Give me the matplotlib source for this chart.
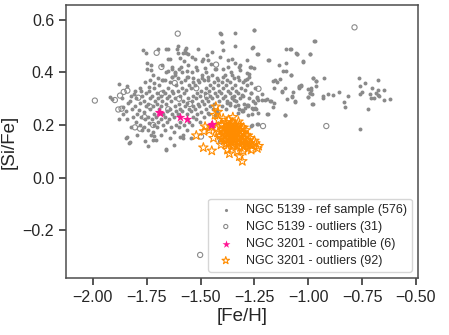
import numpy as np
import matplotlib
matplotlib.use("Agg")
import matplotlib.pyplot as plt
import seaborn as sns

sns.set_style("ticks")
plt.rcParams['font.family'] = ['Liberation Sans', 'DejaVu Sans']

# NGC 5139 reference sample ([Fe/H], [Si/Fe])
ref_pts = [
    # upper sparse part
    (-1.766, 0.486), (-1.753, 0.475), (-1.699, 0.491), (-1.662, 0.488), (-1.606, 0.502),
    (-1.750, 0.435), (-1.731, 0.430), (-1.728, 0.410), (-1.750, 0.412), (-1.653, 0.450),
    (-1.633, 0.420), (-1.621, 0.400), (-1.676, 0.371), (-1.718, 0.360), (-1.738, 0.344),
    (-1.777, 0.331), (-1.808, 0.318), (-1.653, 0.490), (-1.569, 0.492), (-1.510, 0.488),
    (-1.395, 0.486), (-1.642, 0.451), (-1.603, 0.473), (-1.569, 0.473), (-1.595, 0.454),
    (-1.526, 0.451), (-1.472, 0.467), (-1.464, 0.448), (-1.494, 0.444), (-1.371, 0.448),
    (-1.557, 0.429), (-1.653, 0.406), (-1.631, 0.412), (-1.591, 0.422), (-1.619, 0.397),
    (-1.587, 0.401), (-1.561, 0.406), (-1.518, 0.410), (-1.479, 0.416), (-1.433, 0.412),
    (-1.395, 0.412), (-1.371, 0.422), (-1.386, 0.390), (-1.355, 0.390), (-1.696, 0.378),
    (-1.665, 0.371), (-1.634, 0.384), (-1.603, 0.378), (-1.564, 0.384), (-1.534, 0.378),
    (-1.494, 0.380), (-1.464, 0.371), (-1.425, 0.378), (-1.409, 0.549), (-1.400, 0.517),
    (-1.540, 0.460), (-1.560, 0.470), (-1.572, 0.485), (-1.608, 0.490), (-1.409, 0.458),
    (-1.448, 0.479), (-1.487, 0.450), (-1.580, 0.473),
    # dense cloud
    (-1.862, 0.270), (-1.858, 0.241), (-1.866, 0.302), (-1.843, 0.221), (-1.838, 0.282),
    (-1.846, 0.252), (-1.842, 0.350), (-1.823, 0.192), (-1.818, 0.262), (-1.826, 0.291),
    (-1.815, 0.232), (-1.821, 0.312), (-1.802, 0.211), (-1.796, 0.243), (-1.805, 0.272),
    (-1.798, 0.302), (-1.803, 0.331), (-1.794, 0.163), (-1.783, 0.201), (-1.776, 0.232),
    (-1.785, 0.258), (-1.779, 0.283), (-1.774, 0.309), (-1.781, 0.341), (-1.772, 0.181),
    (-1.762, 0.192), (-1.757, 0.221), (-1.764, 0.249), (-1.755, 0.271), (-1.761, 0.291),
    (-1.753, 0.322), (-1.758, 0.362), (-1.745, 0.182), (-1.738, 0.208), (-1.743, 0.231),
    (-1.735, 0.262), (-1.746, 0.281), (-1.733, 0.302), (-1.741, 0.331), (-1.736, 0.372),
    (-1.742, 0.121), (-1.722, 0.172), (-1.716, 0.201), (-1.725, 0.221), (-1.714, 0.243),
    (-1.721, 0.272), (-1.712, 0.291), (-1.726, 0.312), (-1.717, 0.341), (-1.723, 0.392),
    (-1.702, 0.191), (-1.696, 0.212), (-1.705, 0.232), (-1.694, 0.262), (-1.703, 0.281),
    (-1.697, 0.302), (-1.701, 0.322), (-1.693, 0.352), (-1.706, 0.142), (-1.683, 0.162),
    (-1.676, 0.201), (-1.685, 0.222), (-1.674, 0.241), (-1.682, 0.272), (-1.677, 0.291),
    (-1.686, 0.312), (-1.673, 0.331), (-1.681, 0.372), (-1.678, 0.430), (-1.663, 0.182),
    (-1.656, 0.211), (-1.665, 0.232), (-1.654, 0.252), (-1.661, 0.281), (-1.657, 0.302),
    (-1.664, 0.322), (-1.652, 0.342), (-1.659, 0.402), (-1.643, 0.152), (-1.636, 0.192),
    (-1.645, 0.221), (-1.634, 0.243), (-1.642, 0.262), (-1.637, 0.291), (-1.646, 0.312),
    (-1.633, 0.331), (-1.641, 0.362), (-1.635, 0.382), (-1.622, 0.172), (-1.616, 0.201),
    (-1.625, 0.232), (-1.614, 0.252), (-1.621, 0.271), (-1.617, 0.302), (-1.626, 0.321),
    (-1.613, 0.352), (-1.619, 0.392), (-1.624, 0.122), (-1.602, 0.191), (-1.596, 0.212),
    (-1.605, 0.242), (-1.594, 0.262), (-1.601, 0.281), (-1.597, 0.312), (-1.606, 0.331),
    (-1.593, 0.362), (-1.599, 0.412), (-1.583, 0.162), (-1.576, 0.201), (-1.585, 0.252),
    (-1.574, 0.271), (-1.582, 0.291), (-1.577, 0.322), (-1.586, 0.342), (-1.573, 0.372),
    (-1.579, 0.442), (-1.562, 0.182), (-1.556, 0.212), (-1.565, 0.241), (-1.554, 0.262),
    (-1.561, 0.282), (-1.557, 0.302), (-1.566, 0.332), (-1.553, 0.352), (-1.559, 0.382),
    (-1.542, 0.201), (-1.536, 0.232), (-1.545, 0.252), (-1.534, 0.271), (-1.541, 0.291),
    (-1.537, 0.312), (-1.546, 0.342), (-1.533, 0.362), (-1.539, 0.402), (-1.544, 0.151),
    (-1.522, 0.222), (-1.516, 0.242), (-1.525, 0.262), (-1.514, 0.281), (-1.521, 0.302),
    (-1.517, 0.322), (-1.526, 0.352), (-1.513, 0.372), (-1.519, 0.422), (-1.502, 0.212),
    (-1.496, 0.251), (-1.505, 0.272), (-1.494, 0.292), (-1.501, 0.312), (-1.497, 0.331),
    (-1.506, 0.362), (-1.493, 0.392), (-1.482, 0.232), (-1.476, 0.262), (-1.485, 0.281),
    (-1.474, 0.302), (-1.481, 0.322), (-1.477, 0.342), (-1.486, 0.371), (-1.473, 0.402),
    (-1.462, 0.242), (-1.456, 0.271), (-1.465, 0.291), (-1.454, 0.312), (-1.461, 0.331),
    (-1.457, 0.352), (-1.466, 0.382), (-1.453, 0.432), (-1.442, 0.262), (-1.436, 0.281),
    (-1.445, 0.302), (-1.434, 0.322), (-1.441, 0.342), (-1.437, 0.362), (-1.446, 0.392),
    (-1.422, 0.252), (-1.416, 0.292), (-1.425, 0.312), (-1.414, 0.331), (-1.421, 0.352),
    (-1.417, 0.372), (-1.426, 0.412), (-1.402, 0.272), (-1.396, 0.302), (-1.405, 0.322),
    (-1.394, 0.342), (-1.401, 0.362), (-1.397, 0.381), (-1.382, 0.262), (-1.376, 0.292),
    (-1.385, 0.312), (-1.374, 0.331), (-1.381, 0.352), (-1.377, 0.372), (-1.362, 0.282),
    (-1.356, 0.302), (-1.365, 0.322), (-1.354, 0.342), (-1.361, 0.362), (-1.357, 0.402),
    (-1.342, 0.272), (-1.336, 0.292), (-1.345, 0.312), (-1.334, 0.331), (-1.341, 0.352),
    (-1.322, 0.262), (-1.316, 0.302), (-1.325, 0.322), (-1.314, 0.342), (-1.321, 0.372),
    (-1.302, 0.252), (-1.296, 0.281), (-1.305, 0.312), (-1.294, 0.332), (-1.301, 0.362),
    (-1.282, 0.272), (-1.276, 0.302), (-1.285, 0.352), (-1.274, 0.382), (-1.262, 0.242),
    (-1.256, 0.292), (-1.265, 0.322), (-1.242, 0.262), (-1.236, 0.302), (-1.245, 0.342),
    # lower sparse part of the cloud
    (-1.843, 0.155), (-1.828, 0.136), (-1.662, 0.106), (-1.730, 0.160), (-1.595, 0.155),
    (-1.847, 0.152), (-1.831, 0.133), (-1.757, 0.140), (-1.720, 0.143), (-1.715, 0.158),
    (-1.660, 0.107), (-1.583, 0.149), (-1.878, 0.222), (-1.878, 0.356), (-1.912, 0.298),
    (-1.920, 0.308), (-1.467, 0.244), (-1.433, 0.238), (-1.420, 0.206), (-1.378, 0.285),
    (-1.324, 0.276), (-1.293, 0.264), (-1.278, 0.276), (-1.247, 0.264), (-1.193, 0.242),
    (-1.231, 0.204), (-1.262, 0.200), (-1.162, 0.270),
    # sparse tail towards higher metallicity
    (-1.406, 0.547), (-1.251, 0.562), (-1.402, 0.517), (-1.257, 0.498), (-1.236, 0.469),
    (-1.180, 0.448), (-1.102, 0.488), (-1.084, 0.488), (-1.056, 0.473), (-1.138, 0.429),
    (-1.116, 0.406), (-1.146, 0.365), (-1.130, 0.374), (-1.106, 0.340), (-1.072, 0.327),
    (-1.045, 0.349), (-1.123, 0.329), (-1.200, 0.295), (-1.215, 0.317), (-1.177, 0.291),
    (-1.157, 0.283), (-1.107, 0.238), (-1.231, 0.244), (-1.257, 0.260), (-1.278, 0.238),
    (-1.309, 0.257), (-1.286, 0.276), (-1.363, 0.276), (-1.347, 0.295), (-1.355, 0.308),
    (-1.309, 0.314), (-1.267, 0.321), (-1.239, 0.308), (-1.267, 0.359), (-1.293, 0.371),
    (-1.324, 0.384), (-1.286, 0.397), (-1.316, 0.410), (-1.250, 0.416), (-1.340, 0.435),
    (-1.320, 0.422), (-1.352, 0.450), (-1.286, 0.448), (-1.270, 0.422), (-1.340, 0.549),
    (-1.253, 0.562), (-1.340, 0.500), (-1.262, 0.495), (-1.234, 0.469), (-1.186, 0.446),
    (-1.053, 0.470), (-1.022, 0.440), (-0.994, 0.469), (-0.971, 0.519), (-1.102, 0.437),
    (-1.104, 0.407), (-1.082, 0.389), (-1.318, 0.429), (-1.265, 0.420), (-1.276, 0.394),
    (-1.284, 0.374), (-1.344, 0.380), (-1.164, 0.368), (-1.153, 0.371), (-1.158, 0.342),
    (-1.120, 0.327), (-1.100, 0.300), (-1.076, 0.308), (-1.060, 0.289), (-1.045, 0.344),
    (-1.034, 0.350), (-0.999, 0.307), (-0.991, 0.321), (-0.980, 0.378), (-0.964, 0.368),
    (-0.986, 0.340), (-0.980, 0.281), (-1.107, 0.239), (-1.189, 0.242), (-1.236, 0.203),
    (-1.265, 0.196), (-1.234, 0.295), (-1.213, 0.295), (-1.193, 0.298), (-1.175, 0.293),
    (-1.247, 0.283), (-1.262, 0.266), (-1.309, 0.253), (-1.324, 0.244),
    (-0.969, 0.520), (-1.080, 0.489), (-1.051, 0.472), (-0.994, 0.470), (-1.022, 0.443),
    (-1.080, 0.389), (-0.980, 0.379), (-0.926, 0.379), (-0.963, 0.366), (-1.034, 0.351),
    (-0.966, 0.350), (-1.042, 0.341), (-0.999, 0.338), (-0.988, 0.332), (-0.994, 0.321),
    (-0.983, 0.318), (-0.999, 0.307), (-1.076, 0.310), (-0.932, 0.310), (-0.932, 0.304),
    (-0.910, 0.319), (-0.887, 0.313), (-0.859, 0.325), (-0.817, 0.310), (-0.836, 0.288),
    (-0.830, 0.267), (-1.062, 0.290), (-0.983, 0.281),
    (-0.766, 0.378), (-0.737, 0.359), (-0.676, 0.370), (-0.761, 0.348), (-0.704, 0.341),
    (-0.674, 0.333), (-0.650, 0.335), (-0.749, 0.325), (-0.761, 0.317), (-0.715, 0.319),
    (-0.684, 0.323), (-0.678, 0.316), (-0.669, 0.312), (-0.707, 0.304), (-0.696, 0.304),
    (-0.647, 0.295), (-0.622, 0.299), (-0.722, 0.262), (-0.758, 0.185),
]

# NGC 5139 outliers (31)
out_pts = [
    (-1.606, 0.548), (-1.704, 0.475), (-1.682, 0.421), (-1.428, 0.430), (-1.991, 0.293),
    (-1.898, 0.295), (-1.874, 0.312), (-1.857, 0.326), (-1.840, 0.331), (-1.882, 0.259),
    (-1.867, 0.262), (-1.805, 0.191), (-1.781, 0.186), (-1.405, 0.138), (-1.231, 0.338),
    (-1.210, 0.196), (-0.916, 0.196), (-0.785, 0.572), (-1.502, -0.295), (-1.789, 0.304),
    (-1.735, 0.270), (-1.498, 0.156), (-1.760, 0.230), (-1.720, 0.200), (-1.650, 0.260),
    (-1.600, 0.300), (-1.550, 0.280), (-1.520, 0.340), (-1.470, 0.310), (-1.680, 0.320),
    (-1.620, 0.360),
]

# NGC 3201 compatible (6)
comp_pts = [
    (-1.695, 0.251), (-1.690, 0.247), (-1.595, 0.232), (-1.561, 0.223), (-1.453, 0.199),
    (-1.445, 0.205),
]

# NGC 3201 outliers (92)
n3201_out_pts = [
    (-1.429, 0.270), (-1.433, 0.238), (-1.417, 0.219), (-1.402, 0.200), (-1.520, 0.160),
    (-1.484, 0.176), (-1.487, 0.114), (-1.448, 0.102), (-1.366, 0.091), (-1.306, 0.062),
    (-1.302, 0.101), (-1.236, 0.111), (-1.262, 0.122), (-1.479, 0.194), (-1.448, 0.194),
    (-1.417, 0.174), (-1.324, 0.213), (-1.300, 0.190), (-1.250, 0.140), (-1.270, 0.150),
    (-1.230, 0.120), (-1.350, 0.230), (-1.370, 0.220), (-1.420, 0.250), (-1.410, 0.160),
    (-1.460, 0.180), (-1.440, 0.150), (-1.330, 0.100), (-1.350, 0.120), (-1.280, 0.110),
    (-1.320, 0.080),
    (-1.400, 0.150), (-1.400, 0.180), (-1.400, 0.200), (-1.390, 0.140), (-1.390, 0.170),
    (-1.390, 0.190), (-1.380, 0.130), (-1.380, 0.160), (-1.380, 0.180), (-1.380, 0.210),
    (-1.370, 0.150), (-1.370, 0.170), (-1.370, 0.190), (-1.370, 0.130), (-1.360, 0.140),
    (-1.360, 0.160), (-1.360, 0.180), (-1.360, 0.200), (-1.350, 0.130), (-1.350, 0.150),
    (-1.350, 0.170), (-1.350, 0.190), (-1.350, 0.210), (-1.340, 0.140), (-1.340, 0.160),
    (-1.340, 0.180), (-1.340, 0.200), (-1.330, 0.120), (-1.330, 0.150), (-1.330, 0.170),
    (-1.330, 0.190), (-1.320, 0.130), (-1.320, 0.160), (-1.320, 0.180), (-1.320, 0.200),
    (-1.310, 0.140), (-1.310, 0.170), (-1.310, 0.190), (-1.300, 0.120), (-1.300, 0.150),
    (-1.300, 0.170), (-1.290, 0.130), (-1.290, 0.160), (-1.290, 0.180), (-1.280, 0.140),
    (-1.280, 0.160), (-1.270, 0.130),
    (-1.395, 0.225), (-1.355, 0.205), (-1.325, 0.145), (-1.345, 0.125), (-1.315, 0.115),
    (-1.385, 0.145), (-1.365, 0.185), (-1.305, 0.135), (-1.285, 0.125), (-1.265, 0.105),
    (-1.425, 0.185), (-1.405, 0.125), (-1.375, 0.105), (-1.245, 0.130),
]

fe_ref, si_ref = np.array(ref_pts).T
fe_out, si_out = np.array(out_pts).T
fe_comp, si_comp = np.array(comp_pts).T
fe_n3201, si_n3201 = np.array(n3201_out_pts).T

fig = plt.figure(figsize=(4.49, 3.35), dpi=100)
ax = fig.add_axes([0.147, 0.170, 0.784, 0.815])

ax.scatter(fe_ref, si_ref, s=8, color='#8a8a8a', linewidths=0,
           label='NGC 5139 - ref sample (576)')
ax.scatter(fe_out, si_out, s=14, facecolors='none', edgecolors='#8a8a8a', linewidths=0.8,
           label='NGC 5139 - outliers (31)')
ax.scatter(fe_comp, si_comp, s=55, marker='*', color='deeppink', linewidths=0,
           label='NGC 3201 - compatible (6)', zorder=4)
ax.scatter(fe_n3201, si_n3201, s=50, marker='*', facecolors='none', edgecolors='darkorange',
           linewidths=0.8, label='NGC 3201 - outliers (92)', zorder=3)

ax.set_xlim(-2.125, -0.49)
ax.set_ylim(-0.383, 0.657)
ax.set_xticks([-2.0, -1.75, -1.5, -1.25, -1.0, -0.75, -0.5])
ax.set_yticks([-0.2, 0.0, 0.2, 0.4, 0.6])
ax.tick_params(labelsize=11.5, length=5, width=1.1, colors='.15')
for sp in ax.spines.values():
    sp.set_linewidth(1.1)
    sp.set_color('.3')
ax.set_xlabel('[Fe/H]', fontsize=13.5, labelpad=2)
ax.set_ylabel('[Si/Fe]', fontsize=13.5)
ax.legend(loc='lower right', fontsize=9, frameon=True, markerscale=0.8,
          handletextpad=0.6, borderpad=0.4, labelspacing=0.4)

fig.savefig('out.png', dpi=100)
